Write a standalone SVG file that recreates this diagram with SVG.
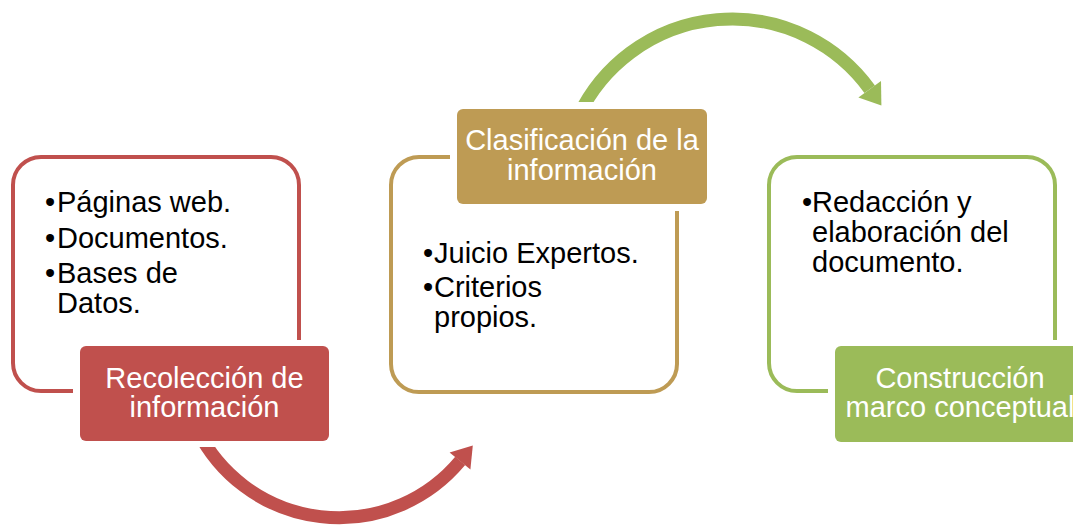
<svg xmlns="http://www.w3.org/2000/svg" width="1073" height="525" viewBox="0 0 1073 525">
<style>
.frame{fill:#fff;stroke-width:4}
.gap{fill:#fff}
.t{font-family:"Liberation Sans",Arial,sans-serif;font-size:29px;fill:#000}
.w{font-family:"Liberation Sans",Arial,sans-serif;font-size:29px;fill:#fff;text-anchor:middle}
.arc{fill:none;stroke-width:13}
</style>
<rect width="1073" height="525" fill="#fff"/>
<g id="connectors">
<path class="arc" stroke="#C0504D" d="M197.4 430 A158 158 0 0 0 460.2 460.9"/>
<polygon fill="#C0504D" points="472.8,445.6 470.4,469.6 449.6,452.4"/>
<path class="arc" stroke="#9BBB59" d="M579 115 A170 170 0 0 1 869.7 89.2"/>
<polygon fill="#9BBB59" points="881.4,105.4 881,81 858.4,97.4"/>
</g>
<g id="node-recoleccion">
<rect class="frame" x="13" y="157" width="286" height="234" rx="28" stroke="#C0504D"/>
<text class="t"><tspan x="45" y="212">•</tspan><tspan x="57" y="212">Páginas web.</tspan><tspan x="45" y="248">•</tspan><tspan x="57" y="248">Documentos.</tspan><tspan x="45" y="283">•</tspan><tspan x="57" y="283">Bases de</tspan><tspan x="57" y="313">Datos.</tspan></text>
<rect class="gap" x="73" y="340" width="263" height="107" rx="9"/>
<rect x="80" y="346" width="249" height="95" rx="6" fill="#C0504D"/>
<text class="w"><tspan x="204.5" y="388">Recolección de</tspan><tspan x="204.5" y="417">información</tspan></text>
</g>
<g id="node-clasificacion">
<rect class="frame" x="391" y="157" width="286" height="235" rx="28" stroke="#BE9B54"/>
<text class="t"><tspan x="423" y="263">•</tspan><tspan x="434" y="263">Juicio Expertos.</tspan><tspan x="423" y="297">•</tspan><tspan x="434" y="297">Criterios</tspan><tspan x="434" y="327">propios.</tspan></text>
<rect class="gap" x="450" y="102" width="264" height="109" rx="9"/>
<rect x="457" y="109" width="250" height="95" rx="6" fill="#BE9B54"/>
<text class="w"><tspan x="582" y="150">Clasificación de la</tspan><tspan x="582" y="180">información</tspan></text>
</g>
<g id="node-construccion">
<rect class="frame" x="769" y="157" width="286" height="234" rx="28" stroke="#9BBB59"/>
<text class="t"><tspan x="802" y="212">•</tspan><tspan x="812" y="212">Redacción y</tspan><tspan x="812" y="242">elaboración del</tspan><tspan x="812" y="272">documento.</tspan></text>
<rect class="gap" x="828" y="340" width="264" height="108" rx="9"/>
<rect x="835" y="346" width="250" height="96" rx="6" fill="#9BBB59"/>
<text class="w"><tspan x="960" y="388">Construcción</tspan><tspan x="960" y="417">marco conceptual</tspan></text>
</g>
</svg>
